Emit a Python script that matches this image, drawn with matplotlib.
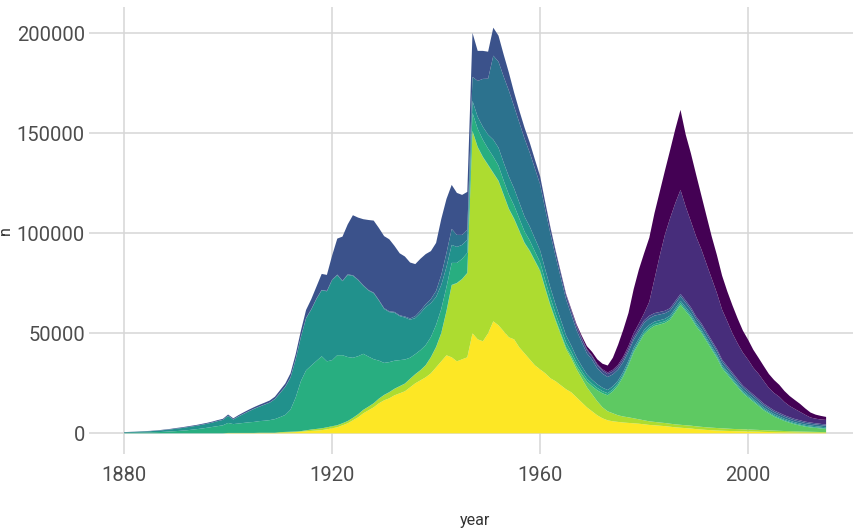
import matplotlib

matplotlib.use("Agg")
import matplotlib.pyplot as plt
import numpy as np

# years 1880-2015, values in thousands of babies, stacked bottom -> top
years = np.arange(1880, 2016)

yellow = [
    0, 0, 0, 0, 0, 0, 0, 0, 0, 0,
    0, 0, 0, 0, 0, 0, 0, 0, 0, 0,
    0.1, 0.1, 0.1, 0.1, 0.1, 0.1, 0.2, 0.2, 0.2, 0.2,
    0.3, 0.4, 0.5, 0.6, 0.8, 1.0, 1.2, 1.4, 1.6, 2.0,
    2.5, 3.0, 4.0, 5.0, 6.5, 8.0, 10, 11.5, 13, 15,
    16.5, 17.5, 19, 20, 21, 23, 25, 26.5, 28, 30,
    33, 36, 39, 38, 36, 37, 38, 50, 47, 46,
    50, 56, 54, 51, 48, 47, 43, 40, 37, 34,
    32, 30, 27.5, 26, 24, 22, 20.5, 18, 15.5, 13,
    11, 9, 7.5, 6.5, 6, 5.7, 5.4, 5.2, 5, 4.8,
    4.5, 4.2, 4, 3.8, 3.6, 3.3, 3, 2.8, 2.6, 2.4,
    2.1, 1.9, 1.7, 1.55, 1.4, 1.3, 1.2, 1.1, 1.05, 1.0,
    0.9, 0.85, 0.8, 0.7, 0.65, 0.6, 0.55, 0.5, 0.47, 0.43,
    0.4, 0.38, 0.35, 0.33, 0.31, 0.3,
]
light_green = [
    0, 0, 0, 0, 0, 0, 0, 0, 0, 0,
    0, 0, 0, 0, 0, 0, 0, 0, 0, 0,
    0.1, 0.1, 0.1, 0.1, 0.1, 0.1, 0.1, 0.1, 0.1, 0.1,
    0.3, 0.3, 0.3, 0.3, 0.3, 0.5, 0.7, 0.8, 0.9, 1.0,
    1.0, 1.0, 1.0, 1.1, 1.2, 1.5, 1.7, 1.8, 2.0, 2.3,
    2.6, 3.0, 3.2, 3.5, 3.8, 4.2, 4.5, 5, 6, 8,
    10, 14, 22, 36, 39, 40, 42, 101, 96, 92,
    84, 74, 72, 68, 64, 60, 58, 55, 54, 52,
    49, 42, 36, 30, 25, 20, 17, 14, 12, 10,
    8.5, 7, 5.5, 4.5, 4, 3.3, 3, 2.8, 2.5, 2.2,
    2, 1.8, 1.7, 1.6, 1.55, 1.5, 1.48, 1.45, 1.43, 1.42,
    1.4, 1.35, 1.3, 1.28, 1.25, 1.2, 1.15, 1.1, 1.05, 1.02,
    1.0, 0.95, 0.9, 0.85, 0.8, 0.75, 0.7, 0.65, 0.6, 0.55,
    0.5, 0.46, 0.42, 0.38, 0.34, 0.3,
]
green = [
    0, 0, 0, 0, 0, 0, 0, 0, 0, 0,
    0, 0, 0, 0, 0, 0, 0, 0, 0, 0,
    0, 0, 0, 0, 0, 0, 0, 0, 0, 0,
    0, 0, 0, 0, 0, 0, 0, 0, 0, 0,
    0.05, 0.05, 0.05, 0.05, 0.05, 0.05, 0.05, 0.05, 0.05, 0.05,
    0.1, 0.1, 0.1, 0.1, 0.1, 0.1, 0.1, 0.1, 0.1, 0.1,
    0.2, 0.2, 0.2, 0.2, 0.2, 0.2, 0.2, 0.2, 0.2, 0.2,
    0.3, 0.3, 0.3, 0.3, 0.3, 0.4, 0.4, 0.4, 0.4, 0.4,
    0.5, 0.55, 0.6, 0.7, 0.85, 1.0, 1.2, 1.5, 2, 2.8,
    4, 5.5, 7, 8, 11, 15, 20, 26, 33, 38,
    43, 46, 48, 49, 50, 52, 56, 60, 57, 54,
    50, 47, 43, 39, 35, 30, 27, 24, 21, 18,
    16, 14, 12, 10, 8.5, 7, 6, 5, 4.2, 3.5,
    3, 2.5, 2.2, 2, 1.8, 1.6,
]
green_teal = [
    0.2, 0.25, 0.3, 0.35, 0.4, 0.45, 0.55, 0.65, 0.8, 0.95,
    1.1, 1.3, 1.5, 1.8, 2.1, 2.4, 2.8, 3.2, 3.6, 4.0,
    5.0, 4.4, 4.7, 5.0, 5.3, 5.5, 5.8, 6.0, 6.3, 6.8,
    7.5, 8.5, 11, 17, 25, 30, 32, 34, 36, 33,
    33, 35, 34, 32, 30, 29, 28, 25, 22, 19,
    16, 15, 14, 13, 12, 10.5, 10, 10, 10, 10,
    11, 12, 12, 11, 10, 10, 10, 9, 9, 8.5,
    8, 8, 7.5, 7, 7, 6.5, 6, 5.5, 5, 4.5,
    4, 3.8, 3.5, 3, 2.7, 2.4, 2.1, 1.9, 1.7, 1.5,
    1.3, 1.2, 1.1, 1.05, 1.0, 1.0, 0.95, 0.95, 0.95, 0.95,
    0.9, 0.9, 0.89, 0.88, 0.87, 0.85, 0.84, 0.83, 0.83, 0.82,
    0.8, 0.79, 0.78, 0.76, 0.74, 0.72, 0.7, 0.68, 0.66, 0.63,
    0.6, 0.58, 0.56, 0.54, 0.52, 0.5, 0.48, 0.46, 0.44, 0.42,
    0.4, 0.38, 0.36, 0.34, 0.32, 0.3,
]
teal = [
    0.3, 0.35, 0.4, 0.5, 0.55, 0.6, 0.7, 0.8, 0.9, 1.0,
    1.2, 1.3, 1.5, 1.6, 1.7, 1.9, 2.0, 2.2, 2.5, 2.7,
    3.5, 2.3, 3.5, 4.5, 5.5, 6.5, 7.2, 8.0, 8.7, 10,
    12, 14, 16, 19, 22, 26, 28, 31, 33, 35,
    40, 40, 37, 41, 41, 38, 34, 33, 33, 30,
    27, 25, 24, 22, 21, 19, 18, 18.5, 19, 17,
    14, 12, 10, 9, 8, 7, 6.5, 6, 6, 6.5,
    7, 8.5, 9, 9, 9, 8.5, 8, 7.5, 7, 6.5,
    6, 5.5, 5, 4.5, 4, 3.5, 3, 2.7, 2.4, 2.2,
    2, 1.85, 1.7, 1.6, 1.5, 1.4, 1.38, 1.36, 1.34, 1.32,
    1.3, 1.28, 1.26, 1.24, 1.22, 1.2, 1.18, 1.16, 1.15, 1.1,
    1.0, 0.98, 0.96, 0.94, 0.92, 0.9, 0.88, 0.86, 0.84, 0.82,
    0.8, 0.78, 0.76, 0.74, 0.72, 0.7, 0.68, 0.66, 0.64, 0.62,
    0.6, 0.58, 0.56, 0.54, 0.52, 0.5,
]
blue_teal = [
    0.05, 0.05, 0.05, 0.05, 0.05, 0.05, 0.05, 0.05, 0.05, 0.05,
    0.05, 0.05, 0.05, 0.05, 0.05, 0.05, 0.05, 0.05, 0.05, 0.05,
    0.1, 0.1, 0.1, 0.1, 0.1, 0.1, 0.1, 0.1, 0.1, 0.1,
    0.2, 0.2, 0.2, 0.2, 0.2, 0.2, 0.2, 0.2, 0.2, 0.2,
    0.3, 0.3, 0.3, 0.3, 0.3, 0.3, 0.3, 0.3, 0.3, 0.3,
    0.4, 0.4, 0.4, 0.4, 0.5, 0.6, 1.0, 1.2, 1.5, 2,
    3, 5, 7, 8, 6, 5, 5, 12, 18, 24,
    28, 42, 43, 43, 43, 41, 40, 39, 37, 35,
    33, 30, 27, 24, 21, 18, 15.5, 13.5, 12, 10.5,
    10, 8, 7, 6.5, 6, 5.5, 5, 4.5, 4, 3.8,
    3.5, 3.3, 3.0, 2.9, 2.8, 2.5, 2.4, 2.3, 2.2, 2.1,
    2.0, 1.95, 1.9, 1.85, 1.8, 1.7, 1.65, 1.6, 1.5, 1.45,
    1.4, 1.35, 1.3, 1.2, 1.15, 1.1, 1.05, 1.0, 0.95, 0.9,
    0.9, 0.85, 0.85, 0.8, 0.8, 0.8,
]
blue = [
    0.05, 0.06, 0.07, 0.08, 0.1, 0.12, 0.14, 0.16, 0.2, 0.25,
    0.3, 0.32, 0.34, 0.36, 0.38, 0.4, 0.42, 0.44, 0.47, 0.5,
    0.6, 0.5, 0.6, 0.7, 0.75, 0.8, 0.85, 0.9, 1.0, 1.1,
    1.3, 1.5, 2, 2.5, 3, 4, 5, 6, 8, 8,
    12, 18, 22, 25, 30, 31, 33, 35, 36, 36,
    36, 36, 33, 31, 30, 28, 26, 26, 25, 24,
    24, 28, 27, 22, 21, 20, 19, 22, 15, 14,
    13.5, 14, 13, 11, 9, 7, 6, 5.5, 5, 4.5,
    4, 3.5, 3, 2.7, 2.4, 2.2, 2.0, 1.9, 1.8, 1.7,
    1.6, 1.55, 1.5, 1.45, 1.4, 1.4, 1.38, 1.36, 1.34, 1.32,
    1.3, 1.28, 1.26, 1.24, 1.22, 1.2, 1.18, 1.16, 1.15, 1.12,
    1.1, 1.08, 1.06, 1.04, 1.02, 1.0, 0.98, 0.96, 0.94, 0.92,
    0.9, 0.88, 0.86, 0.84, 0.82, 0.8, 0.78, 0.76, 0.74, 0.72,
    0.7, 0.68, 0.66, 0.64, 0.62, 0.6,
]
purple = [0] * 80 + [
    0.1, 0.1, 0.15, 0.2, 0.25, 0.3, 0.35, 0.4, 0.45, 0.5,
    0.5, 0.6, 0.7, 0.8, 0.9, 1.0, 1.2, 1.5, 2, 2.5,
    3.5, 7, 17, 28, 38, 45, 49, 52, 47, 43,
    40, 37, 34, 31, 28, 25, 22.4, 19.6, 17.8, 16.5,
    15.2, 13.4, 12.6, 11.3, 9.5, 8.7, 8, 6.6, 5.6, 5,
    4.2, 3.4, 2.5, 2.3, 2.2, 2.3,
]
dark_purple = [0] * 80 + [
    0, 0, 0.1, 0.15, 0.2, 0.3, 0.5, 0.7, 1.0, 1.4,
    1.8, 2.3, 2.8, 3.5, 6, 10, 13.5, 16.5, 22, 27,
    30, 32, 33, 32, 32, 34, 37, 40, 36, 34,
    31, 27, 24, 21, 19, 17, 15, 14, 12.5, 11,
    10, 9, 8, 7.5, 7, 6.5, 6, 5.5, 5, 4.5,
    4, 3.2, 2.5, 2, 1.8, 1.5,
]

layers = [yellow, light_green, green, green_teal, teal, blue_teal, blue, purple, dark_purple]
values = np.array(layers) * 1000
# viridis(9): top layer is the first level (dark purple), bottom the last (yellow)
colors = plt.cm.viridis(np.linspace(0, 1, 9))[::-1]

plt.rcParams["font.family"] = ["Roboto", "DejaVu Sans"]

fig = plt.figure(figsize=(8.54, 5.31), dpi=100)
ax = fig.add_axes([89 / 854, 1 - 453.6 / 531, 772.2 / 854, 446.2 / 531])

ax.stackplot(years, values, colors=colors, linewidth=0)

total = values.sum(axis=0)
pad_x = 0.05 * (years[-1] - years[0])
ax.set_xlim(years[0] - pad_x, years[-1] + pad_x)
ax.set_ylim(-0.05 * total.max(), 1.05 * total.max())

ax.set_xticks([1880, 1920, 1960, 2000])
ax.set_yticks([0, 50000, 100000, 150000, 200000])
ax.set_yticklabels(["0", "50000", "100000", "150000", "200000"])

ax.set_axisbelow(True)
ax.grid(True, color="#d6d6d6", linewidth=1.1)
for s in ax.spines.values():
    s.set_visible(False)
ax.tick_params(length=0, labelsize=14.5, labelcolor="#4d4d4d")
ax.tick_params(axis="x", pad=9)
ax.tick_params(axis="y", pad=3)

ax.set_xlabel("year", fontsize=11.5, color="#333333", labelpad=20)
ax.set_ylabel("n", fontsize=11.5, color="#333333")
ax.yaxis.set_label_coords(-0.098, 0.5)

fig.savefig("out.png", dpi=100)
